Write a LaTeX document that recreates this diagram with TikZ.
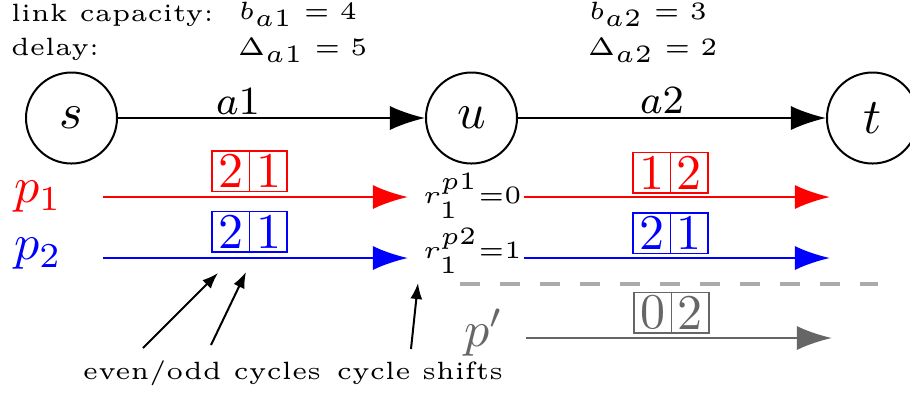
\documentclass[tikz,border=0pt]{standalone}
\usetikzlibrary{arrows.meta}
\definecolor{dgray}{HTML}{666666}
\definecolor{lgray}{HTML}{AAAAAA}
\begin{document}
\begin{tikzpicture}[x=0.2pt,y=-0.2pt,
  txt/.style={inner sep=0pt,font=\tiny},
  vtx/.style={draw,circle,line width=0.4pt,minimum size=18.2pt,inner sep=0pt,font=\normalsize},
  bigtip/.style={-{Latex[length=7pt,width=4.8pt]}},
  flow/.style={bigtip,line width=0.5pt},
  cell/.style={draw,line width=0.3pt,minimum width=7.5pt,minimum height=8.1pt,inner sep=0pt,font=\normalsize},
  ann/.style={-{Latex[length=3.2pt,width=2.4pt]},line width=0.4pt}]
\clip (0,0) rectangle (910,392);
\useasboundingbox (0,0) rectangle (910,392);
% header texts
\node[txt,anchor=base west] (lc) at (10,21) {link capacity:};
\node[txt,anchor=base west] (dl) at (10,55) {delay:};
\node[txt,anchor=base west] (b1) at (238,19) {$b_{a1} = 4$};
\node[txt,anchor=base west] (d1) at (237,55) {$\Delta_{a1} = 5$};
\node[txt,anchor=base west] (b2) at (588,19) {$b_{a2} = 3$};
\node[txt,anchor=base west] (d2) at (587,55) {$\Delta_{a2} = 2$};
% vertices
\node[vtx] (s) at (71.5,118) {$s$};
\node[vtx] (u) at (471.5,118) {$u$};
\node[vtx] (t) at (872.5,118) {$t$};
\draw[bigtip,line width=0.4pt] (s) -- (u);
\draw[bigtip,line width=0.4pt] (u) -- (t);
\node[inner sep=0pt,font=\footnotesize] (la1) at (238,102) {$a1$};
\node[inner sep=0pt,font=\footnotesize] (la2) at (662,101) {$a2$};
% path labels
\node[inner sep=0pt,text=red,font=\normalsize] (p1) at (38,197) {$p_1$};
\node[inner sep=0pt,text=blue,font=\normalsize] (p2) at (38,254) {$p_2$};
\node[inner sep=0pt,text=dgray,font=\normalsize] (pp) at (484,333) {$p'$};
% shift labels
\node[txt,anchor=base west] (r1) at (422,203) {$\scriptstyle r_1^{p1}=0$};
\node[txt,anchor=base west] (r2) at (422,258) {$\scriptstyle r_1^{p2}=1$};
% coordinates
\coordinate (p1a) at (103,197);
\coordinate (p1b) at (408,197);
\coordinate (p1c) at (524,197);
\coordinate (p1d) at (830,197);
\coordinate (p2a) at (103,258);
\coordinate (p2b) at (408,258);
\coordinate (p2c) at (524,258);
\coordinate (p2d) at (830,258);
\coordinate (ppa) at (526,338);
\coordinate (ppb) at (832,338);
\coordinate (da) at (460,284);
\coordinate (db) at (878,284);
% flows
\draw[flow,red] (p1a) -- (p1b);
\draw[flow,red] (p1c) -- (p1d);
\draw[flow,blue] (p2a) -- (p2b);
\draw[flow,blue] (p2c) -- (p2d);
\draw[flow,dgray] (ppa) -- (ppb);
\draw[lgray,line width=0.8pt,dash pattern=on 4pt off 4pt] (da) -- (db);
% cells
\node[cell,red] (r1l) at (231,171) {2};
\node[cell,red] (r1r) at (268.5,171) {1};
\node[cell,blue] (b1l) at (231,231.5) {2};
\node[cell,blue] (b1r) at (268.5,231.5) {1};
\node[cell,red] (r2l) at (652,172.5) {1};
\node[cell,red] (r2r) at (689.5,172.5) {2};
\node[cell,blue] (b2l) at (652,233) {2};
\node[cell,blue] (b2r) at (689.5,233) {1};
\node[cell,dgray] (g2l) at (653,312.5) {0};
\node[cell,dgray] (g2r) at (690.5,312.5) {2};
% annotations
\node[txt,anchor=base] (eo) at (202,379) {even/odd cycles};
\node[txt,anchor=base] (cs) at (420,379) {cycle shifts};
\coordinate (a1t) at (143,348);
\coordinate (a1h) at (218,273);
\coordinate (a2t) at (211,345);
\coordinate (a2h) at (246,272);
\coordinate (a3t) at (411,349);
\coordinate (a3h) at (418,283);
\draw[ann] (a1t) -- (a1h);
\draw[ann] (a2t) -- (a2h);
\draw[ann] (a3t) -- (a3h);
\end{tikzpicture}
\end{document}
